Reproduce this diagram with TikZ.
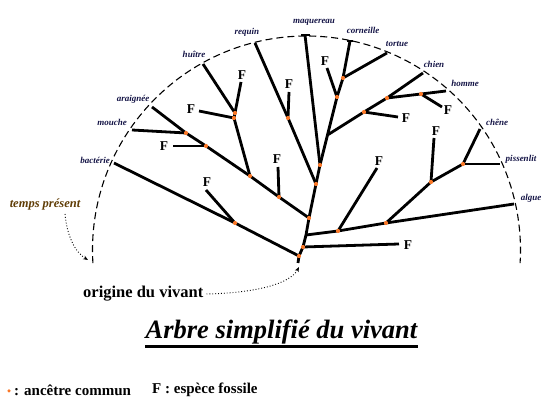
\documentclass[tikz,border=0pt]{standalone}
\usepackage{fontspec}
\setmainfont{Liberation Serif}
\usetikzlibrary{arrows.meta}
\definecolor{dotorange}{RGB}{250,120,40}
\definecolor{labnavy}{RGB}{20,20,70}
\definecolor{brownlab}{RGB}{95,60,5}
\tikzset{
  br/.style={line width=2.8pt},
  anc/.style={circle, fill=dotorange, inner sep=0pt, minimum size=4.2pt},
  tiplab/.style={font=\fontsize{9}{9}\selectfont\bfseries\itshape, text=labnavy, inner sep=0pt},
  flab/.style={font=\fontsize{13.5}{13.5}\selectfont\bfseries, inner sep=0pt},
  arcline/.style={line width=1.1pt, dash pattern=on 7pt off 4pt},
  pointer/.style={line width=0.9pt, dotted, -{Stealth[length=5pt,width=4pt]}},
}
\begin{document}
\begin{tikzpicture}[x=1pt,y=-1pt]
\useasboundingbox (0,0) rectangle (550,403);
% dashed arc (present time)
\coordinate (ctr) at (306.5,250);
\draw[arcline] (ctr) ++(176.5:214) arc (176.5:363.5:214);
% junction coordinates
\coordinate (root) at (299,256);
\coordinate (base) at (298,263);
\coordinate (n1) at (303,247);
\coordinate (n2) at (306,235);
\coordinate (n3) at (309,218);
\coordinate (n4) at (316,184);
\coordinate (n5) at (320,165);
\coordinate (b1) at (235,223);
\coordinate (a1) at (279,197);
\coordinate (a2) at (250,176);
\coordinate (a3) at (206,146);
\coordinate (a4) at (186,133);
\coordinate (h1) at (234,118);
\coordinate (h2) at (235,113);
\coordinate (r1) at (288,118);
\coordinate (c1) at (337,97);
\coordinate (c2) at (343,78);
\coordinate (ch0) at (327.5,135);
\coordinate (k1) at (364,112);
\coordinate (k2) at (387,98);
\coordinate (k3) at (421,94);
\coordinate (g1) at (338,231);
\coordinate (g2) at (386,223);
\coordinate (p1) at (431,182);
\coordinate (p2) at (463,164);
% tips
\coordinate (tbac) at (114,163);
\coordinate (tmou) at (132,130);
\coordinate (tara) at (152,107);
\coordinate (thui) at (203,64);
\coordinate (treq) at (255,43);
\coordinate (tmaq) at (305,35);
\coordinate (tcor) at (350,41);
\coordinate (ttor) at (387,53);
\coordinate (tchi) at (423,73);
\coordinate (thom) at (446,91);
\coordinate (tche) at (480,129);
\coordinate (tpis) at (500,164);
\coordinate (talg) at (514,204);
% fossil ends
\coordinate (fb1) at (206,190);
\coordinate (fa1) at (278,167);
\coordinate (fh1) at (199,111);
\coordinate (fh2) at (241,82);
\coordinate (fa3) at (173,146);
\coordinate (fr1) at (289,92);
\coordinate (fc1) at (327,68);
\coordinate (fk1) at (398,117);
\coordinate (fk3) at (442,107);
\coordinate (fg1) at (377,168);
\coordinate (fp1) at (434,138);
\coordinate (fn1) at (399,244);
% branches
\draw[br] (base) -- (root) -- (n1) -- (n2) -- (n3) -- (n4) -- (n5);
\draw[br] (root) -- (b1) -- (tbac);
\draw[br] (b1) -- (fb1);
\draw[br] (n3) -- (a1) -- (a2) -- (a3) -- (a4) -- (tara);
\draw[br] (a1) -- (fa1);
\draw[br] (a2) -- (h1) -- (h2) -- (thui);
\draw[br] (h1) -- (fh1);
\draw[br] (h2) -- (fh2);
\draw[br] (a3) -- (fa3);
\draw[br] (a4) -- (tmou);
\draw[br] (n4) -- (r1) -- (treq);
\draw[br] (r1) -- (fr1);
\draw[br] (n5) -- (tmaq);
\draw[br] ([xshift=-4pt]tmaq) -- ([xshift=5pt]tmaq);
\draw[br] (n5) -- (c1) -- (c2) -- (tcor);
\draw[br] ([xshift=-3pt]tcor) -- ([xshift=3pt]tcor);
\draw[br] (c1) -- (fc1);
\draw[br] (c2) -- (ttor);
\draw[br] (ch0) -- (k1) -- (k2) -- (tchi);
\draw[br] (k1) -- (fk1);
\draw[br] (k2) -- (k3) -- (thom);
\draw[br] (k3) -- (fk3);
\draw[br] (n2) -- (g1) -- (g2) -- (talg);
\draw[br] (g1) -- (fg1);
\draw[br] (g2) -- (p1) -- (p2) -- (tche);
\draw[br] (p1) -- (fp1);
\draw[br] (p2) -- (tpis);
\draw[br] (n1) -- (fn1);
% common ancestors
\foreach \c in {root,n1,n3,n4,n5,b1,a1,a2,a3,a4,h1,h2,r1,c1,c2,k1,k2,k3,g1,g2,p1,p2}
  \node[anc] at (\c) {};
% fossil labels
\node[flab] (Fb1) at (207,182) {F};
\node[flab] (Fa1) at (277,159) {F};
\node[flab] (Fh1) at (191,109) {F};
\node[flab] (Fh2) at (242,75) {F};
\node[flab] (Fa3) at (164,146) {F};
\node[flab] (Fr1) at (289,84) {F};
\node[flab] (Fc1) at (325,61) {F};
\node[flab] (Fk1) at (406,118) {F};
\node[flab] (Fk3) at (448,110) {F};
\node[flab] (Fg1) at (379,161) {F};
\node[flab] (Fp1) at (436,131) {F};
\node[flab] (Fn1) at (408,245) {F};
% species labels
\node[tiplab] (Lbac) at (95,160) {bactérie};
\node[tiplab] (Lmou) at (112,122) {mouche};
\node[tiplab] (Lara) at (133,99) {araignée};
\node[tiplab] (Lhui) at (194,54) {huître};
\node[tiplab] (Lreq) at (247,32) {requin};
\node[tiplab] (Lmaq) at (314,22) {maquereau};
\node[tiplab] (Lcor) at (363,30) {corneille};
\node[tiplab] (Ltor) at (397,44) {tortue};
\node[tiplab] (Lchi) at (434,64) {chien};
\node[tiplab] (Lhom) at (465,83) {homme};
\node[tiplab] (Lche) at (497,122) {chêne};
\node[tiplab] (Lpis) at (521,159) {pissenlit};
\node[tiplab] (Lalg) at (531,198) {algue};
% annotations
\node[font=\fontsize{12.5}{13}\selectfont\bfseries\itshape, text=brownlab, inner sep=0pt] (temps) at (45,204) {temps présent};
\coordinate (tempsend) at (88,260);
\draw[pointer] (65,214) .. controls (67,236) and (75,252) .. (tempsend);
\node[font=\fontsize{16.5}{17}\selectfont\bfseries, inner sep=0pt, anchor=west] (orig) at (83,294) {origine du vivant};
\coordinate (origend) at (299,267);
\draw[pointer] ([xshift=3pt]orig.east) .. controls (255,293) and (290,284) .. (origend);
% title
\node[font=\fontsize{26.5}{27}\selectfont\bfseries\itshape, inner sep=0pt] (title) at (281.5,332) {Arbre simplifié du vivant};
\draw[line width=3pt] (145,347) -- (418,347);
% legend
\node[anc, minimum size=3.5pt] (legdot) at (9,391) {};
\node[font=\fontsize{15}{15}\selectfont\bfseries, inner sep=0pt, anchor=west] (leg1) at (14,390) {: ancêtre commun};
\node[font=\fontsize{15}{15}\selectfont\bfseries, inner sep=0pt, anchor=west] (leg2) at (152,390) {F : espèce fossile};
\end{tikzpicture}
\end{document}
